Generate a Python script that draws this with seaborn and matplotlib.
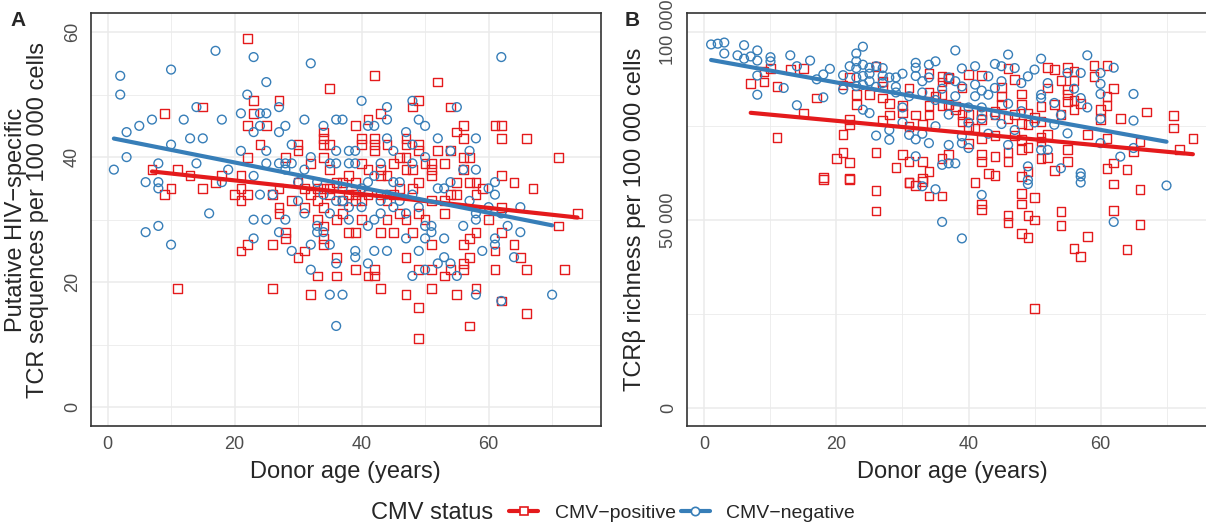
import pandas as pd
import matplotlib.pyplot as plt
import seaborn as sns
from matplotlib.lines import Line2D
from matplotlib.ticker import FixedLocator, FuncFormatter

# CMV groups and colours
status_labels = ["CMV\u2212positive", "CMV\u2212negative"]
status_colors = ["#E41A1C", "#377EB8"]
status_markers = ["s", "o"]

# Panel A: (age, putative HIV-specific TCR sequences per 100 000 cells)
hiv_pos = [
    (7, 38), (9, 47), (9, 34), (10, 35), (11, 38), (11, 19), (13, 37), (15, 48), (15, 35), (17, 36), (18, 37), (20, 34),
    (21, 37), (21, 35), (21, 33), (21, 25), (22, 59), (22, 40), (22, 45), (22, 34), (22, 26), (23, 49), (23, 47), (24, 42),
    (25, 45), (26, 34), (26, 26), (26, 19), (27, 49), (27, 35), (27, 32), (27, 31), (28, 40), (28, 28), (28, 27), (29, 33),
    (30, 42), (30, 41), (30, 24), (30, 36), (31, 32), (31, 25), (31, 35), (32, 39), (32, 18), (32, 34), (33, 35), (33, 33),
    (33, 21), (33, 30), (34, 44), (34, 43), (34, 42), (34, 40), (34, 35), (34, 32), (34, 29), (34, 27), (34, 26), (35, 51),
    (35, 42), (35, 35), (35, 38), (35, 34), (36, 24), (36, 21), (36, 30), (36, 36), (37, 36), (37, 33), (37, 31), (38, 34),
    (38, 37), (38, 28), (39, 45), (39, 33), (39, 28), (39, 22), (39, 36), (39, 34), (40, 43), (40, 42), (40, 39), (40, 30),
    (40, 33), (41, 46), (41, 21), (41, 34), (41, 38), (42, 53), (42, 43), (42, 42), (42, 41), (42, 22), (42, 21), (43, 47),
    (43, 38), (43, 37), (43, 28), (43, 19), (43, 34), (44, 42), (44, 37), (44, 30), (44, 33), (45, 34), (45, 39), (45, 28),
    (46, 31), (46, 35), (46, 40), (47, 43), (47, 42), (47, 40), (47, 38), (47, 30), (47, 24), (47, 18), (48, 48), (48, 38),
    (48, 35), (48, 28), (49, 49), (49, 42), (49, 41), (49, 36), (49, 31), (49, 22), (49, 16), (49, 11), (50, 39), (50, 30),
    (51, 39), (51, 38), (51, 37), (51, 33), (51, 26), (51, 22), (51, 19), (52, 52), (52, 41), (53, 39), (53, 33), (53, 31),
    (53, 21), (54, 48), (54, 41), (54, 34), (54, 22), (55, 44), (55, 36), (55, 34), (55, 18), (56, 45), (56, 43), (56, 40),
    (56, 38), (56, 26), (56, 23), (56, 22), (57, 40), (57, 36), (57, 27), (57, 24), (57, 13), (58, 36), (58, 34), (58, 28),
    (58, 19), (59, 35), (60, 30), (61, 45), (61, 25), (61, 22), (62, 45), (62, 43), (62, 37), (62, 32), (62, 28), (62, 17),
    (64, 36), (64, 26), (65, 24), (66, 43), (66, 22), (66, 15), (67, 35), (71, 40), (71, 29), (72, 22), (74, 31),
]
hiv_neg = [
    (1, 38), (2, 53), (2, 50), (3, 44), (3, 40), (5, 45), (6, 36), (6, 28), (7, 46), (8, 39), (8, 36), (8, 35), (8, 29),
    (10, 54), (10, 42), (10, 26), (12, 46), (13, 43), (14, 48), (14, 39), (15, 43), (16, 31), (17, 57), (18, 46), (18, 36),
    (19, 38), (21, 47), (21, 41), (22, 50), (23, 56), (23, 44), (23, 37), (23, 30), (23, 27), (24, 47), (24, 45), (24, 34),
    (25, 52), (25, 47), (25, 41), (25, 39), (25, 30), (26, 34), (27, 48), (27, 44), (27, 39), (27, 28), (28, 45), (28, 39),
    (28, 38), (28, 30), (29, 42), (29, 39), (29, 25), (30, 33), (30, 36), (31, 46), (31, 38), (31, 31), (32, 55), (32, 40),
    (32, 26), (32, 22), (33, 29), (33, 28), (33, 36), (34, 45), (34, 34), (34, 28), (35, 39), (35, 26), (35, 18), (35, 31),
    (36, 46), (36, 41), (36, 39), (36, 23), (36, 13), (36, 33), (37, 46), (37, 18), (37, 33), (37, 35), (38, 41), (38, 39),
    (38, 32), (38, 30), (39, 41), (39, 39), (39, 25), (39, 24), (40, 49), (40, 35), (40, 32), (41, 45), (41, 29), (41, 23),
    (41, 36), (42, 45), (42, 37), (42, 30), (42, 25), (43, 39), (43, 33), (43, 31), (44, 48), (44, 46), (44, 43), (44, 25),
    (44, 34), (45, 41), (45, 36), (45, 32), (46, 36), (46, 33), (47, 44), (47, 27), (47, 31), (48, 49), (48, 42), (48, 39),
    (48, 21), (48, 34), (49, 46), (49, 25), (49, 32), (50, 45), (50, 40), (50, 29), (50, 27), (50, 22), (51, 28), (51, 29),
    (52, 43), (52, 35), (52, 23), (53, 35), (53, 27), (53, 24), (54, 41), (54, 36), (54, 23), (55, 48), (55, 21), (56, 38),
    (56, 29), (57, 41), (57, 33), (58, 43), (58, 38), (58, 31), (58, 30), (58, 18), (59, 25), (60, 35), (60, 32), (61, 36),
    (61, 34), (61, 27), (61, 26), (62, 56), (62, 31), (62, 17), (63, 29), (64, 24), (65, 32), (65, 28), (70, 18),
]

# Panel B: (age, TCRbeta richness per 100 000 cells, in thousands)
rich_pos = [
    (7, 86.3), (9, 86.8), (9, 89.5), (10, 90.4), (11, 85.6), (13, 90.1), (15, 90.4), (17, 82.5), (15, 78.5), (11, 72.0),
    (21, 72.7), (21, 68.1), (20, 66.3), (22, 65.4), (18, 61.4), (22, 61.1), (26, 68.1), (22, 76.7), (22, 75.4), (23, 80.7),
    (23, 83.4), (25, 83.4), (27, 85.5), (27, 82.5), (28, 81.0), (28, 78.0), (27, 76.5), (29, 64.0), (30, 67.5), (31, 65.5),
    (31, 60.0), (33, 65.5), (33, 61.0), (34, 63.0), (36, 66.5), (21, 86.0), (22, 88.0), (26, 91.0), (27, 87.0), (31, 85.2),
    (31, 75.0), (30, 80.5), (30, 78.5), (32, 78.0), (33, 75.4), (34, 89.0), (34, 84.0), (34, 80.5), (34, 78.0), (35, 83.0),
    (36, 86.8), (36, 80.5), (37, 87.7), (18, 60.7), (22, 60.7), (26, 57.8), (26, 52.4), (31, 59.9), (32, 59.1), (33, 60.2),
    (34, 56.4), (36, 56.4), (41, 60.0), (42, 54.3), (42, 52.9), (46, 51.3), (46, 49.3), (48, 57.1), (48, 54.3), (50, 56.1),
    (49, 51.3), (50, 50.0), (48, 46.4), (49, 45.3), (54, 52.2), (54, 48.5), (58, 45.7), (56, 42.4), (57, 40.2), (62, 59.6),
    (62, 52.5), (66, 58.2), (66, 48.9), (64, 42.2), (50, 26.4), (40, 88.8), (36, 88.3), (42, 88.5), (45, 85.4), (45, 83.0),
    (46, 90.4), (48, 83.6), (52, 90.7), (53, 90.1), (55, 90.7), (56, 89.6), (59, 91.2), (61, 91.2), (59, 88.3), (62, 85.0),
    (61, 83.0), (61, 80.6), (60, 79.4), (55, 84.8), (55, 83.4), (56, 87.2), (54, 87.2), (56, 81.8), (57, 81.0), (56, 79.4),
    (58, 72.9), (61, 71.7), (63, 77.0), (67, 78.8), (71, 77.9), (71, 74.5), (74, 71.8), (72, 68.7), (66, 70.8), (65, 68.3),
    (60, 76.7), (64, 63.4), (62, 65.2), (61, 63.8), (53, 63.1), (49, 62.9), (48, 61.6), (44, 61.8), (43, 62.5), (55, 65.6),
    (55, 68.8), (52, 66.7), (51, 66.5), (48, 68.7), (49, 69.4), (46, 68.0), (46, 65.6), (44, 66.9), (42, 67.5), (42, 65.6),
    (40, 70.4), (37, 67.4), (51, 71.9), (51, 71.0), (48, 71.4), (47, 72.5), (44, 72.6), (42, 71.6), (40, 75.0), (52, 85.2),
    (53, 80.7), (51, 80.3), (50, 77.3), (49, 78.5), (48, 75.8), (47, 78.1), (46, 77.0), (45, 80.7), (44, 78.1), (42, 78.1),
    (42, 76.7), (41, 74.5), (40, 78.1), (39, 85.2), (39, 78.1), (39, 76.3), (37, 87.9), (36, 83.4), (37, 80.8), (38, 80.2),
    (38, 79.4), (44, 79.0), (47, 87.5), (48, 80.7), (49, 75.4), (51, 76.3), (52, 72.7), (54, 78.1), (55, 81.6),
]
rich_neg = [
    (1, 96.8), (2, 97.0), (3, 97.3), (3, 94.4), (6, 96.6), (5, 93.9), (6, 93.0), (7, 93.6), (8, 95.2), (8, 92.5),
    (10, 93.4), (10, 92.3), (13, 93.9), (16, 92.5), (14, 91.0), (8, 88.5), (12, 85.2), (8, 83.4), (14, 80.6), (17, 87.5),
    (18, 88.8), (19, 90.3), (18, 82.7), (24, 96.2), (23, 94.4), (23, 92.3), (22, 91.0), (23, 90.5), (24, 91.4), (25, 90.6),
    (26, 91.0), (27, 90.5), (21, 88.6), (23, 88.0), (24, 88.4), (25, 89.0), (27, 88.5), (28, 88.0), (29, 88.0), (30, 89.0),
    (27, 86.5), (29, 85.5), (25, 87.0), (26, 85.5), (23, 85.7), (24, 86.0), (21, 84.8), (32, 91.9), (32, 90.6), (34, 91.4),
    (35, 92.3), (32, 88.4), (33, 87.0), (34, 88.0), (24, 79.4), (25, 78.5), (26, 72.5), (28, 71.4), (28, 74.0), (31, 72.7),
    (32, 71.5), (33, 73.0), (34, 70.5), (32, 67.0), (36, 64.7), (37, 70.0), (35, 58.2), (36, 49.5), (33, 59.0), (38, 95.2),
    (46, 94.1), (51, 93.0), (58, 93.9), (62, 90.6), (65, 83.6), (65, 76.5), (60, 89.2), (60, 86.3), (60, 83.6), (57, 89.2),
    (57, 82.5), (55, 89.2), (53, 81.2), (52, 86.5), (51, 83.4), (51, 82.5), (50, 90.1), (49, 88.3), (48, 86.5), (47, 90.5),
    (45, 91.0), (44, 91.6), (43, 88.3), (41, 91.0), (39, 90.4), (45, 87.0), (44, 85.2), (43, 83.4), (42, 84.5), (41, 86.1),
    (41, 83.0), (39, 85.6), (38, 83.0), (37, 78.1), (39, 72.3), (39, 70.5), (40, 69.2), (42, 80.0), (45, 75.6), (47, 74.0),
    (53, 75.4), (55, 73.1), (51, 68.7), (52, 68.7), (54, 63.8), (57, 62.5), (57, 61.6), (60, 70.5), (63, 66.9), (65, 69.2),
    (49, 64.3), (49, 60.7), (37, 65.1), (38, 65.1), (42, 56.7), (39, 45.1), (49, 59.6), (62, 49.5), (70, 59.2), (57, 60.0),
    (29, 84.0), (30, 80.0), (31, 83.0), (33, 84.0), (35, 82.0), (36, 85.0), (37, 88.0), (38, 87.0), (40, 80.0), (42, 77.0),
    (44, 78.0), (46, 81.0), (48, 79.0), (50, 76.0), (54, 78.0), (56, 85.0), (58, 80.0), (60, 77.0), (30, 76.0), (35, 75.0),
    (40, 76.0), (43, 73.0), (46, 70.0),
]


def make_frame(pos, neg, scale=1.0):
    rows = [(a, v * scale, status_labels[0]) for a, v in pos]
    rows += [(a, v * scale, status_labels[1]) for a, v in neg]
    return pd.DataFrame(rows, columns=["age", "value", "cmv"])


df_a = make_frame(hiv_pos, hiv_neg)
df_b = make_frame(rich_pos, rich_neg, scale=1000)

sns.set_style("white")
plt.rcParams["font.family"] = ["Liberation Sans", "DejaVu Sans"]

W, H = 1206, 524
fig = plt.figure(figsize=(W / 100, H / 100), dpi=100)
ax_a = fig.add_axes([90.7 / W, (H - 426) / H, 510 / W, 412.7 / H])
ax_b = fig.add_axes([687 / W, (H - 426) / H, 530 / W, 412.7 / H])


def draw_panel(ax, df):
    palette = dict(zip(status_labels, status_colors))
    markers = dict(zip(status_labels, status_markers))
    sns.scatterplot(data=df, x="age", y="value", hue="cmv", style="cmv",
                    palette=palette, markers=markers, s=40, linewidth=1.0,
                    legend=False, ax=ax, zorder=3)
    for coll in ax.collections:
        coll.set_edgecolors(coll.get_facecolors())
        coll.set_facecolors("none")
    for lab, col in zip(status_labels, status_colors):
        sns.regplot(data=df[df["cmv"] == lab], x="age", y="value", scatter=False,
                    ci=None, color=col, line_kws={"lw": 3.0, "zorder": 4}, ax=ax)
    ax.set_xlim(-2.65, 77.65)
    ax.xaxis.set_major_locator(FixedLocator([0, 20, 40, 60]))
    ax.xaxis.set_minor_locator(FixedLocator([10, 30, 50, 70]))
    ax.grid(which="major", color="#EBEBEB", lw=1.1)
    ax.grid(which="minor", color="#EBEBEB", lw=0.6)
    ax.set_axisbelow(True)
    for sp in ax.spines.values():
        sp.set_color("#333333")
        sp.set_linewidth(1.2)
    ax.tick_params(which="major", length=4, width=1, color="#333333",
                   labelcolor="#4D4D4D", labelsize=13, pad=3)
    ax.tick_params(which="minor", length=0)
    ax.tick_params(axis="y", labelrotation=90)
    for t in ax.get_yticklabels():
        t.set_va("center")
    ax.set_xlabel("Donor age (years)", fontsize=17, labelpad=6)
    ax.set_ylabel("")


draw_panel(ax_a, df_a)
ax_a.set_ylim(-3, 63)
ax_a.yaxis.set_major_locator(FixedLocator([0, 20, 40, 60]))
ax_a.yaxis.set_minor_locator(FixedLocator([10, 30, 50]))

draw_panel(ax_b, df_b)
ax_b.set_ylim(-4900, 105100)
ax_b.yaxis.set_major_locator(FixedLocator([0, 50000, 100000]))
ax_b.yaxis.set_minor_locator(FixedLocator([25000, 75000]))
ax_b.yaxis.set_major_formatter(FuncFormatter(lambda v, p: f"{int(v):,}".replace(",", " ")))
for t in ax_b.get_yticklabels():
    t.set_va("center")

ymid = 1 - ((13.3 + 426) / 2) / H
fig.text(27 / W, ymid, "Putative HIV\u2212specific\nTCR sequences per 100 000 cells",
         rotation=90, ha="center", va="center", fontsize=17, linespacing=1.05,
         multialignment="center")
fig.text(634 / W, ymid, "TCR\u03b2 richness per 100 000 cells",
         rotation=90, ha="center", va="center", fontsize=17)

fig.text(10 / W, 1 - 20 / H, "A", fontsize=15, fontweight="bold", va="center", ha="left")
fig.text(625 / W, 1 - 20 / H, "B", fontsize=15, fontweight="bold", va="center", ha="left")

# legend along the bottom
fig.text(432 / W, 1 - 513 / H, "CMV status", fontsize=17, ha="center", va="center")
handles = [Line2D([], [], color=c, lw=3, marker=m, ms=6, mfc="white", mec=c, mew=1.2)
           for c, m in zip(status_colors, status_markers)]
fig.legend(handles, status_labels, loc="center left", bbox_to_anchor=(509 / W, 1 - 513 / H),
           ncol=2, frameon=False, fontsize=14, handlelength=1.5, handletextpad=0.85,
           columnspacing=0.25, borderaxespad=0, borderpad=0)

fig.savefig("out.png", dpi=100)
